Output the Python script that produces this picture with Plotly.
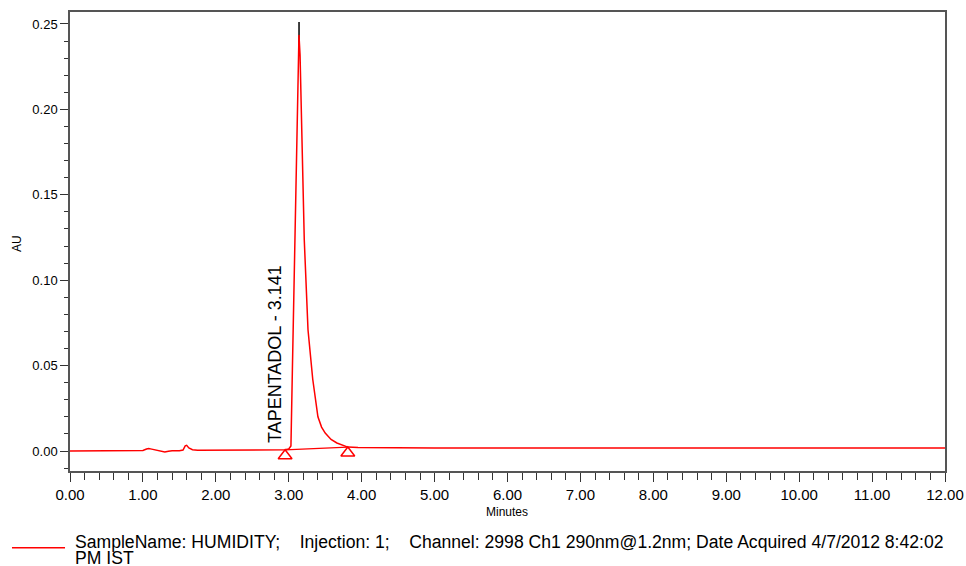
import plotly.graph_objects as go

# ---- data ----
time_min = [0.00, 0.30, 0.60, 0.90, 1.00, 1.05, 1.08, 1.12, 1.18, 1.25, 1.30, 1.35,
            1.40, 1.50, 1.55, 1.58, 1.60, 1.63, 1.68, 1.75, 2.00, 2.40, 2.80, 2.95,
            3.00, 3.03, 3.05, 3.07, 3.086, 3.11, 3.125, 3.14, 3.155, 3.178, 3.213,
            3.264, 3.329, 3.40, 3.45, 3.50, 3.58, 3.66, 3.75, 3.81, 3.95, 4.20,
            5.00, 6.00, 7.00, 8.00, 9.00, 10.00, 11.00, 12.00]
au = [0.0000, 0.0000, 0.0001, 0.0002, 0.0003, 0.0012, 0.0015, 0.0011, 0.0004, -0.0002,
      -0.0006, -0.0001, 0.0002, 0.0002, 0.0006, 0.0030, 0.0033, 0.0018, 0.0008, 0.0004,
      0.0004, 0.0005, 0.0006, 0.0007, 0.0012, 0.0030, 0.0480, 0.0930, 0.1290, 0.1880,
      0.2250, 0.2436, 0.2320, 0.1880, 0.1235, 0.0710, 0.0420, 0.0200, 0.0140, 0.0105,
      0.0068, 0.0047, 0.0030, 0.0023, 0.0020, 0.0019, 0.0018, 0.0017, 0.0017, 0.0017,
      0.0017, 0.0017, 0.0017, 0.0017]

peak_name = "TAPENTADOL"
peak_rt = 3.141
peak_apex_au = 0.2436
peak_top_marker_au = 0.2512
baseline_times = [2.95, 3.81]
baseline_au = [0.0007, 0.0023]

x_ticks = [0, 1, 2, 3, 4, 5, 6, 7, 8, 9, 10, 11, 12]
y_ticks = [0.00, 0.05, 0.10, 0.15, 0.20, 0.25]

legend_line1 = ("SampleName: HUMIDITY;&nbsp;&nbsp;&nbsp;&nbsp;Injection: 1;&nbsp;&nbsp;&nbsp;&nbsp;"
                "Channel: 2998 Ch1 290nm@1.2nm; Date Acquired 4/7/2012 8:42:02")
legend_line2 = "PM IST"

RED = "#ff0000"
FONT = "Liberation Sans, Arial, sans-serif"

fig = go.Figure()

# integration baseline
fig.add_trace(go.Scatter(x=baseline_times, y=baseline_au, mode="lines",
                         line=dict(color=RED, width=1.3), showlegend=False, hoverinfo="skip"))
# chromatogram
fig.add_trace(go.Scatter(x=time_min, y=au, mode="lines",
                         line=dict(color=RED, width=1.5), showlegend=False))
# peak start / end triangles
fig.add_trace(go.Scatter(x=baseline_times, y=[v - 0.0035 for v in baseline_au], mode="markers",
                         marker=dict(symbol="triangle-up-open", size=12, color=RED,
                                     line=dict(color=RED, width=1.5)),
                         showlegend=False, hoverinfo="skip"))

# apex marker
fig.add_shape(type="line", xref="x", yref="y", x0=peak_rt, x1=peak_rt,
              y0=peak_apex_au - 0.006, y1=peak_top_marker_au,
              line=dict(color="black", width=1.5), layer="below")

# peak label
fig.add_annotation(x=peak_rt, y=0, xref="x", yref="y", text=f"{peak_name} - {peak_rt:.3f}",
                   textangle=-90, showarrow=False, xanchor="center", yanchor="bottom",
                   xshift=-24, yshift=6,
                   font=dict(family=FONT, size=18, color="black"))

# axis titles
fig.add_annotation(x=0.4994, y=-0.0893, xref="paper", yref="paper", text="Minutes",
                   showarrow=False, xanchor="center", yanchor="middle",
                   font=dict(family=FONT, size=12, color="black"))
fig.add_annotation(x=-0.0606, y=0.4967, xref="paper", yref="paper", text="AU",
                   textangle=-90, showarrow=False, xanchor="center", yanchor="middle",
                   font=dict(family=FONT, size=12, color="black"))

# legend-like caption
fig.add_shape(type="line", xref="paper", yref="paper", x0=-0.0663, x1=-0.0057,
              y0=-0.1671, y1=-0.1671, line=dict(color=RED, width=1.5))
fig.add_annotation(x=0.004, y=-0.1547, xref="paper", yref="paper", text=legend_line1,
                   showarrow=False, xanchor="left", yanchor="middle", align="left",
                   borderpad=0,
                   font=dict(family=FONT, size=17.6, color="black"))
fig.add_annotation(x=0.004, y=-0.1906, xref="paper", yref="paper", text=legend_line2,
                   showarrow=False, xanchor="left", yanchor="middle", align="left",
                   borderpad=0,
                   font=dict(family=FONT, size=17.6, color="black"))

fig.update_layout(
    width=966, height=566,
    margin=dict(l=70, r=21, t=12, b=95, autoexpand=False),
    paper_bgcolor="white", plot_bgcolor="white",
    font=dict(family=FONT, size=13, color="black"),
    showlegend=False,
)
fig.update_xaxes(
    range=[0, 12], tickvals=x_ticks, ticktext=[f"{v:.2f}" for v in x_ticks],
    ticks="outside", ticklen=9, tickwidth=1.3, tickcolor="#333",
    minor=dict(dtick=0.2, ticks="outside", ticklen=7, tickwidth=1.3, tickcolor="#333"),
    showline=True, linecolor="#555", linewidth=1.5, mirror=True,
    showgrid=False, zeroline=False, automargin=False,
    tickfont=dict(size=15),
)
fig.update_yaxes(
    range=[-0.0117, 0.2570], tickvals=y_ticks, ticktext=[f"{v:.2f}" for v in y_ticks],
    ticks="outside", ticklen=8, tickwidth=1.3, tickcolor="#333",
    minor=dict(tick0=0, dtick=0.01, ticks="outside", ticklen=4, tickwidth=1.3, tickcolor="#333"),
    showline=True, linecolor="#555", linewidth=1.5, mirror=True,
    showgrid=False, zeroline=False, automargin=False,
    tickfont=dict(size=13),
)

fig.write_html("out.html", config={"displayModeBar": False},
               post_script="document.body.style.margin='0';document.body.style.overflow='hidden';")
